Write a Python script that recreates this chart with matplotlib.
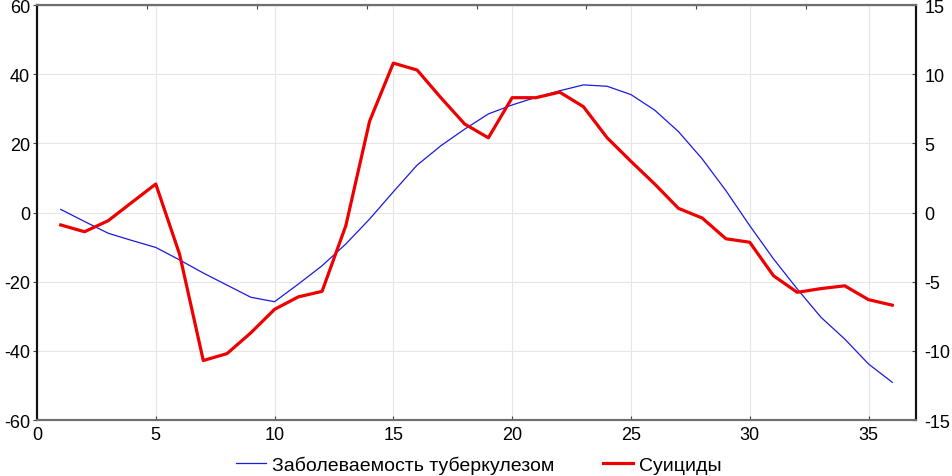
import numpy as np
import matplotlib.pyplot as plt

plt.rcParams['font.family'] = ['Liberation Sans', 'DejaVu Sans']
plt.rcParams['axes.unicode_minus'] = False

x = list(range(1, 37))
tb = [0.9, -2.6, -6.0, -8.1, -10.1, -13.7, -17.5, -21.0, -24.5, -25.8,
      -20.7, -15.4, -9.1, -1.9, 6.0, 13.7, 19.3, 24.1, 28.5, 31.1,
      33.3, 35.2, 36.9, 36.5, 34.1, 29.6, 23.4, 15.5, 6.3, -3.8,
      -13.4, -22.1, -30.3, -36.6, -43.8, -49.1]
suic = [-0.9, -1.39, -0.59, 0.74, 2.06, -3.0, -10.7, -10.2, -8.7, -7.0,
        -6.1, -5.7, -0.95, 6.6, 10.8, 10.3, 8.3, 6.4, 5.4, 8.3,
        8.3, 8.7, 7.65, 5.4, 3.7, 2.06, 0.3, -0.4, -1.9, -2.15,
        -4.57, -5.77, -5.5, -5.3, -6.3, -6.7]

fig = plt.figure(figsize=(9.53, 4.77), dpi=100)
ax = fig.add_axes([0.0388, 0.1174, 0.9224, 0.87])
ax2 = ax.twinx()

l1, = ax.plot(x, tb, color='#1a1ae0', lw=0.9, label='Заболеваемость туберкулезом')
l2, = ax2.plot(x, suic, color='#ee0000', lw=2.3, label='Суициды')

ax.set_xlim(0, 37)
ax.set_ylim(-60, 60)
ax2.set_ylim(-15, 15)
ax.set_xticks(range(0, 36, 5))
ax.set_yticks(range(-60, 61, 20))
ax2.set_yticks(range(-15, 16, 5))
ax.grid(True, color='#e6e6e6', lw=0.8)
ax.set_axisbelow(True)

for a in (ax, ax2):
    for side, s in a.spines.items():
        s.set_color('#111111' if side in ('left', 'right') else '#6e6e6e')
        s.set_linewidth(1.5)
ax.tick_params(axis='x', labelsize=13, length=3, direction='in', color='#444444', pad=4)
ax.tick_params(axis='y', labelsize=13, length=3, color='#444444', pad=2)
ax2.tick_params(labelsize=13, length=3, direction='in', color='#444444', pad=6)

# odd top scale, ticks only
top = ax.secondary_xaxis('top', functions=(lambda v: v * 8 / 37, lambda v: v * 37 / 8))
top.set_xticks(range(1, 8))
top.tick_params(direction='in', length=3, labeltop=False, color='#444444')

fig.legend(handles=[l1, l2], loc='center', bbox_to_anchor=(0.502, 0.023), ncol=2,
           frameon=False, fontsize=14, handlelength=1.55, handletextpad=0.3,
           columnspacing=2.5, borderpad=0)

fig.savefig('out.png', dpi=100)
